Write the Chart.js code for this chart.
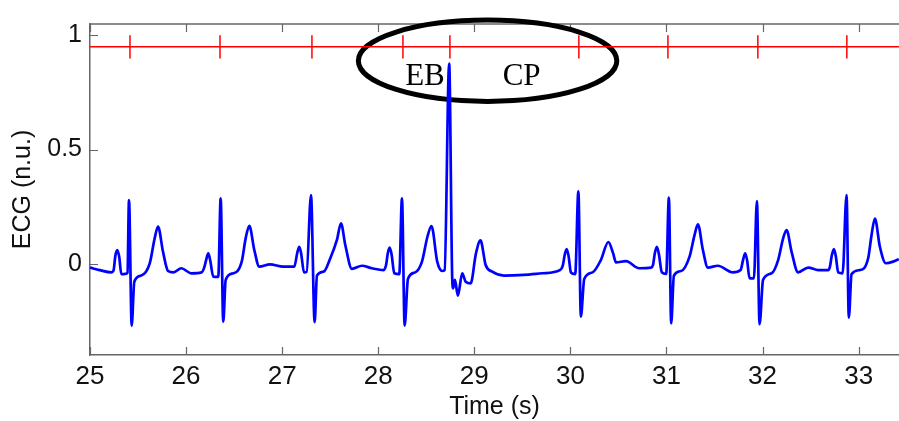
<!DOCTYPE html>
<html><head><meta charset="utf-8">
<script src="https://cdn.jsdelivr.net/npm/chart.js@4/dist/chart.umd.min.js"></script>
<style>html,body{margin:0;padding:0;background:#fff;}#wrap{width:899px;height:421px;position:relative;}</style>
</head><body><div id="wrap"><canvas id="c" width="899" height="421"></canvas></div>
<script>
// ECG trace (time in s, amplitude in n.u.)
const ecgTime = [
25.000,25.100,25.222,25.245,25.264,25.284,25.304,25.326,25.367,25.390,25.406,25.434,25.461,25.534,25.621,25.673,25.708,25.760,25.812,25.870,25.950,26.054,26.162,
26.190,26.211,26.231,26.251,26.283,26.335,26.360,26.387,26.412,26.491,26.579,26.620,26.658,26.710,26.762,26.873,27.011,27.126,
27.158,27.178,27.198,27.227,27.255,27.300,27.338,27.362,27.432,27.501,27.570,27.612,27.657,27.726,27.830,27.934,28.056,
28.082,28.099,28.119,28.139,28.167,28.219,28.247,28.275,28.309,28.385,28.455,28.512,28.554,28.614,28.666,28.691,
28.738,28.770,28.780,28.798,28.829,28.874,28.910,28.962,29.017,29.064,29.118,29.186,29.308,29.516,29.707,29.891,
29.920,29.941,29.961,29.981,30.005,30.050,30.083,30.109,30.144,30.231,30.317,30.395,30.445,30.474,30.578,30.716,30.838,
30.860,30.880,30.900,30.920,30.952,30.997,31.025,31.049,31.077,31.153,31.240,31.292,31.327,31.379,31.431,31.535,31.691,
31.771,31.799,31.819,31.839,31.865,31.910,31.941,31.969,32.005,32.094,32.162,32.214,32.250,32.302,32.370,32.475,32.579,32.683,
32.700,32.722,32.742,32.762,32.787,32.833,32.874,32.898,32.926,33.013,33.099,33.134,33.169,33.221,33.283,33.359,33.418
];
const ecgValue = [
-0.017,-0.028,-0.038,-0.030,0.035,0.060,0.030,-0.046,-0.045,-0.040,0.279,-0.271,-0.079,-0.052,0.000,0.111,0.162,0.052,-0.032,-0.038,-0.020,-0.042,-0.038,
-0.015,0.020,0.045,0.015,-0.057,-0.058,0.286,-0.254,-0.071,-0.042,0.009,0.111,0.166,0.060,-0.013,-0.003,-0.013,-0.013,
0.049,0.074,0.044,-0.038,-0.036,0.300,-0.256,-0.052,-0.035,0.024,0.104,0.177,0.082,-0.023,-0.009,-0.020,-0.028,
-0.005,0.045,0.070,0.040,-0.042,-0.046,0.286,-0.271,-0.067,-0.038,0.009,0.118,0.165,0.009,-0.032,-0.028,
0.876,-0.064,-0.108,-0.071,-0.140,-0.042,-0.079,-0.086,0.045,0.102,-0.006,-0.035,-0.052,-0.049,-0.042,-0.028,
-0.010,0.039,0.064,0.034,-0.038,-0.046,0.317,-0.232,-0.067,-0.038,0.016,0.095,0.045,0.006,0.011,-0.020,-0.017,
-0.005,0.049,0.074,0.044,-0.038,-0.045,0.289,-0.261,-0.052,-0.032,0.031,0.125,0.172,0.060,-0.017,-0.009,-0.038,
-0.028,0.020,0.045,0.015,-0.064,-0.064,0.274,-0.265,-0.071,-0.042,0.016,0.111,0.147,0.052,-0.038,-0.017,-0.028,-0.028,
-0.015,0.039,0.064,0.034,-0.038,-0.042,0.300,-0.236,-0.046,-0.028,0.024,0.125,0.198,0.074,0.002,0.009,0.020
];
// detected beat markers (red ticks)
const beatTimes = [25.416,26.353,27.310,28.257,28.746,30.088,31.015,31.951,32.877];
const markerLevel = 0.95;
const xTicks = [25,26,27,28,29,30,31,32,33];
const yTicks = [0,0.5,1];
const xRange = [25,33.42];
const yRange = [-0.4,1.05];
// annotation (ellipse + labels) in data coordinates
const labelTexts = ['EB','CP'];
const labelX = [28.486,29.492];
const labelY = [0.781,0.781];
const ellipseCenter = [29.138,0.889];
const ellipseRadii = [1.345,0.178];

const AXIS_COLOR = '#666';
const decor = {
  id:'decor',
  beforeDatasetsDraw(chart){
    const ctx = chart.ctx, a = chart.chartArea, xs = chart.scales.x, ys = chart.scales.y;
    ctx.save();
    ctx.strokeStyle = AXIS_COLOR; ctx.lineWidth = 1.5;
    ctx.beginPath(); ctx.moveTo(a.left, a.top); ctx.lineTo(a.right, a.top); ctx.stroke();
    ctx.lineWidth = 1.2;
    ctx.beginPath();
    xTicks.forEach(v=>{ const px = Math.round(xs.getPixelForValue(v))+0.5;
      ctx.moveTo(px, a.bottom); ctx.lineTo(px, a.bottom-8);
      ctx.moveTo(px, a.top); ctx.lineTo(px, a.top+8); });
    yTicks.forEach(v=>{ const py = Math.round(ys.getPixelForValue(v))+0.5;
      ctx.moveTo(a.left, py); ctx.lineTo(a.left+8, py); });
    ctx.stroke();
    // ellipse
    const cx = xs.getPixelForValue(ellipseCenter[0]), cy = ys.getPixelForValue(ellipseCenter[1]);
    const rx = xs.getPixelForValue(ellipseCenter[0]+ellipseRadii[0]) - cx;
    const ry = cy - ys.getPixelForValue(ellipseCenter[1]+ellipseRadii[1]);
    ctx.strokeStyle = '#000'; ctx.lineWidth = 5;
    ctx.beginPath(); ctx.ellipse(cx, cy, rx, ry, 0, 0, Math.PI*2); ctx.stroke();
    ctx.restore();
  },
  afterDatasetsDraw(chart){
    const ctx = chart.ctx, xs = chart.scales.x, ys = chart.scales.y;
    ctx.save();
    ctx.fillStyle = '#000'; ctx.font = '31px "Liberation Serif", "Times New Roman", serif';
    ctx.textAlign = 'center'; ctx.textBaseline = 'alphabetic';
    labelTexts.forEach((t,i)=> ctx.fillText(t, xs.getPixelForValue(labelX[i]), ys.getPixelForValue(labelY[i])));
    ctx.restore();
  }
};

const FONT = '"Liberation Sans", Arial, sans-serif';
new Chart(document.getElementById('c'), {
  type:'line',
  data:{ datasets:[
    { label:'ECG', data: ecgTime.map((t,i)=>({x:t,y:ecgValue[i]})), borderColor:'#0000ff', borderWidth:2.7,
      pointRadius:0, cubicInterpolationMode:'monotone', fill:false, order:1 },
    { label:'level', data: xRange.map(x=>({x:x,y:markerLevel})), borderColor:'#ff0000', borderWidth:1.5, pointRadius:0, fill:false, order:2 },
    { label:'beats', data: beatTimes.map(t=>({x:t,y:markerLevel})), showLine:false, borderColor:'#ff0000',
      pointStyle:'line', pointRotation:90, pointRadius:11.7, pointBorderColor:'#ff0000', pointBorderWidth:1.5, order:2 }
  ]},
  options:{
    responsive:false, animation:false, devicePixelRatio:1,
    layout:{ autoPadding:false, padding:{ top:24, left:0, right:0, bottom:0 } },
    plugins:{ legend:{display:false}, tooltip:{enabled:false} },
    scales:{
      x:{ type:'linear', min:xRange[0], max:xRange[1],
        afterBuildTicks:s=>{ s.ticks = xTicks.map(v=>({value:v})); },
        afterFit:s=>{ s.height = 66; s.paddingLeft = 0; s.paddingRight = 0; },
        grid:{ display:false, drawTicks:false },
        border:{ display:true, color:AXIS_COLOR, width:1.5 },
        ticks:{ font:{family:FONT, size:26}, color:'#111', padding:6, maxRotation:0, autoSkip:false },
        title:{ display:true, text:'Time (s)', color:'#111', font:{family:FONT, size:25, lineHeight:1}, padding:{top:0,bottom:1.5} }
      },
      y:{ type:'linear', min:yRange[0], max:yRange[1],
        afterBuildTicks:s=>{ s.ticks = yTicks.map(v=>({value:v})); },
        afterFit:s=>{ s.width = 90; s.paddingTop = 0; s.paddingBottom = 0; },
        grid:{ display:false, drawTicks:false },
        border:{ display:true, color:AXIS_COLOR, width:1.5 },
        ticks:{ font:{family:FONT, size:25}, color:'#111', padding:8, callback:v=>String(v) },
        title:{ display:true, text:'ECG (n.u.)', color:'#111', font:{family:FONT, size:25, lineHeight:1}, padding:{top:10.5,bottom:0} }
      }
    }
  },
  plugins:[decor]
});
</script></body></html>
